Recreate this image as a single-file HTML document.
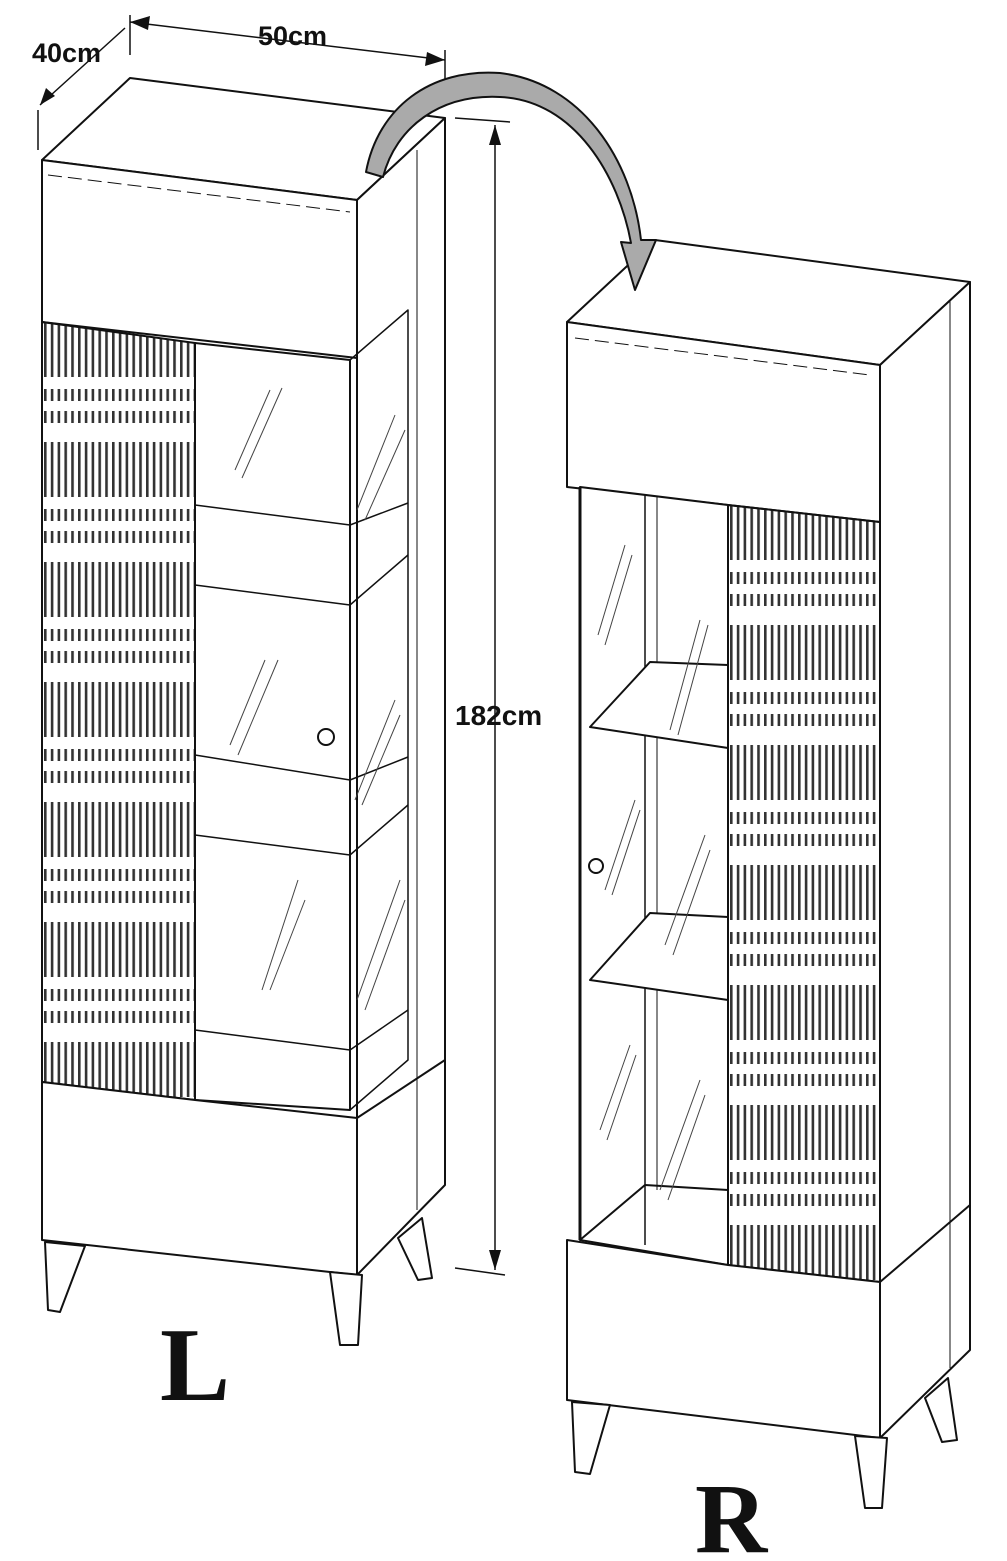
<!DOCTYPE html>
<html><head><meta charset="utf-8"><style>
html,body{margin:0;padding:0;background:#fff;width:1007px;height:1561px;overflow:hidden}
svg{display:block}
</style></head><body>
<svg width="1007" height="1561" viewBox="0 0 1007 1561" xmlns="http://www.w3.org/2000/svg">
<defs>
<pattern id="flute" width="6.8" height="120" patternUnits="userSpaceOnUse" patternTransform="translate(44,322)">
  <rect x="0" y="0" width="2.6" height="55" fill="#333"/>
  <rect x="0" y="67" width="2.6" height="12" fill="#333"/>
  <rect x="0" y="89" width="2.6" height="12" fill="#333"/>
</pattern>
<pattern id="flute2" width="6.8" height="120" patternUnits="userSpaceOnUse" patternTransform="translate(730,505)">
  <rect x="0" y="0" width="2.6" height="55" fill="#333"/>
  <rect x="0" y="67" width="2.6" height="12" fill="#333"/>
  <rect x="0" y="89" width="2.6" height="12" fill="#333"/>
</pattern>
<clipPath id="cl1"><polygon points="42,322 195,343 195,1100 42,1082"/></clipPath>
<clipPath id="cl2"><polygon points="728,505 880,522 880,1282 728,1265"/></clipPath>
</defs>
<g fill="none" stroke="#111" stroke-width="2" stroke-linejoin="round">
<!-- LEFT CABINET -->
<polygon points="42,160 130,78 445,118 357,200" fill="#fff"/>
<polygon points="42,160 357,200 357,358 42,322" fill="#fff"/>
<polygon points="357,200 445,118 445,1185 357,1275" fill="#fff"/>
<line x1="417" y1="150" x2="417" y2="1210" stroke-width="1"/>
<polyline points="48,175 350,212" stroke-dasharray="14,6" stroke-width="1"/>
<polygon points="195,343 350,360 350,1110 195,1100"/>
<polyline points="350,360 408,310 408,1060 350,1110" stroke-width="1.5"/>
<polyline points="195,505 350,525 408,503" stroke-width="1.5"/>
<polyline points="195,585 350,605 408,555" stroke-width="1.5"/>
<polyline points="195,755 350,780 408,757" stroke-width="1.5"/>
<polyline points="195,835 350,855 408,805" stroke-width="1.5"/>
<polyline points="195,1030 350,1050 408,1010" stroke-width="1.5"/>
<g stroke-width="1" stroke="#444">
<line x1="235" y1="470" x2="270" y2="390"/><line x1="242" y1="478" x2="282" y2="388"/>
<line x1="357" y1="510" x2="395" y2="415"/><line x1="365" y1="520" x2="405" y2="430"/>
<line x1="230" y1="745" x2="265" y2="660"/><line x1="238" y1="755" x2="278" y2="660"/>
<line x1="355" y1="800" x2="395" y2="700"/><line x1="362" y1="805" x2="400" y2="715"/>
<line x1="262" y1="990" x2="298" y2="880"/><line x1="270" y1="990" x2="305" y2="900"/>
<line x1="357" y1="1000" x2="400" y2="880"/><line x1="365" y1="1010" x2="405" y2="900"/>
</g>
<circle cx="326" cy="737" r="8" fill="#fff"/>
<rect x="42" y="322" width="155" height="780" fill="url(#flute)" stroke="none" clip-path="url(#cl1)"/>
<polygon points="42,322 195,343 195,1100 42,1082"/>
<polygon points="42,1082 195,1100 357,1118 357,1275 42,1240" fill="#fff"/>
<polyline points="357,1118 445,1060"/>
<polygon points="45,1242 48,1310 60,1312 85,1246" fill="#fff"/>
<polygon points="330,1272 340,1345 358,1345 362,1275" fill="#fff"/>
<polygon points="398,1238 418,1280 432,1278 422,1218" fill="#fff"/>
<!-- RIGHT CABINET -->
<polygon points="567,322 655,240 970,282 880,365" fill="#fff"/>
<polygon points="567,322 880,365 880,522 567,487" fill="#fff"/>
<polygon points="880,365 970,282 970,1350 880,1438" fill="#fff"/>
<line x1="950" y1="300" x2="950" y2="1368" stroke-width="1"/>
<polyline points="575,338 870,375" stroke-dasharray="14,6" stroke-width="1"/>
<polygon points="580,487 728,505 728,1265 580,1240" fill="#fff"/>
<line x1="645" y1="495" x2="645" y2="1245" stroke-width="1.5"/>
<line x1="657" y1="497" x2="657" y2="1190" stroke-width="1"/>
<polygon points="590,727 650,662 728,665 728,748" fill="#fff"/>
<polygon points="590,980 650,913 728,917 728,1000" fill="#fff"/>
<polyline points="580,1240 645,1185 728,1190"/>
<line x1="580" y1="487" x2="580" y2="1240" stroke-width="3"/>
<g stroke-width="1" stroke="#444">
<line x1="598" y1="635" x2="625" y2="545"/><line x1="605" y1="645" x2="632" y2="555"/>
<line x1="670" y1="730" x2="700" y2="620"/><line x1="678" y1="735" x2="708" y2="625"/>
<line x1="605" y1="890" x2="635" y2="800"/><line x1="612" y1="895" x2="640" y2="810"/>
<line x1="665" y1="945" x2="705" y2="835"/><line x1="673" y1="955" x2="710" y2="850"/>
<line x1="600" y1="1130" x2="630" y2="1045"/><line x1="607" y1="1140" x2="636" y2="1055"/>
<line x1="660" y1="1190" x2="700" y2="1080"/><line x1="668" y1="1200" x2="705" y2="1095"/>
</g>
<circle cx="596" cy="866" r="7" fill="#fff"/>
<rect x="728" y="505" width="152" height="780" fill="url(#flute2)" stroke="none" clip-path="url(#cl2)"/>
<polygon points="728,505 880,522 880,1282 728,1265"/>
<polygon points="567,1240 728,1265 880,1282 880,1438 567,1400" fill="#fff"/>
<polyline points="880,1282 970,1205"/>
<polygon points="572,1402 575,1472 590,1474 610,1405" fill="#fff"/>
<polygon points="855,1436 865,1508 882,1508 887,1438" fill="#fff"/>
<polygon points="925,1398 942,1442 957,1440 948,1378" fill="#fff"/>
<!-- DIMENSIONS -->
<g stroke-width="1.5">
<line x1="130" y1="15" x2="130" y2="55"/>
<line x1="445" y1="50" x2="445" y2="105"/>
<line x1="130" y1="22" x2="445" y2="60"/>
<line x1="40" y1="105" x2="125" y2="28"/>
<line x1="38" y1="110" x2="38" y2="150"/>
<line x1="455" y1="118" x2="510" y2="122"/>
<line x1="455" y1="1268" x2="505" y2="1275"/>
<line x1="495" y1="125" x2="495" y2="1270"/>
</g>
<g fill="#111" stroke="none">
<polygon points="130,22 150,16 148,30"/>
<polygon points="445,60 425,66 427,52"/>
<polygon points="495,125 489,145 501,145"/>
<polygon points="495,1270 489,1250 501,1250"/>
<polygon points="40,105 46,88 55,96"/>
</g>
<path d="M366,172 C378,108 430,68 500,73 C582,83 632,160 641,240 L656,240 L635,290 L621,242 L631,243 C619,177 575,100 500,97 C440,94 396,127 383,177 Z" fill="#aaa" stroke="#111" stroke-width="2"/>
</g>
<g font-family="Liberation Sans, sans-serif" font-weight="bold" font-size="27" fill="#111">
<text x="32" y="62">40cm</text>
<text x="258" y="45">50cm</text>
<text x="455" y="725" font-size="28">182cm</text>
</g>
<text x="160" y="1400" font-family="Liberation Serif, serif" font-weight="bold" font-size="105" fill="#111">L</text>
<text x="695" y="1552" font-family="Liberation Serif, serif" font-weight="bold" font-size="100" fill="#111">R</text>
</svg>
</body></html>
